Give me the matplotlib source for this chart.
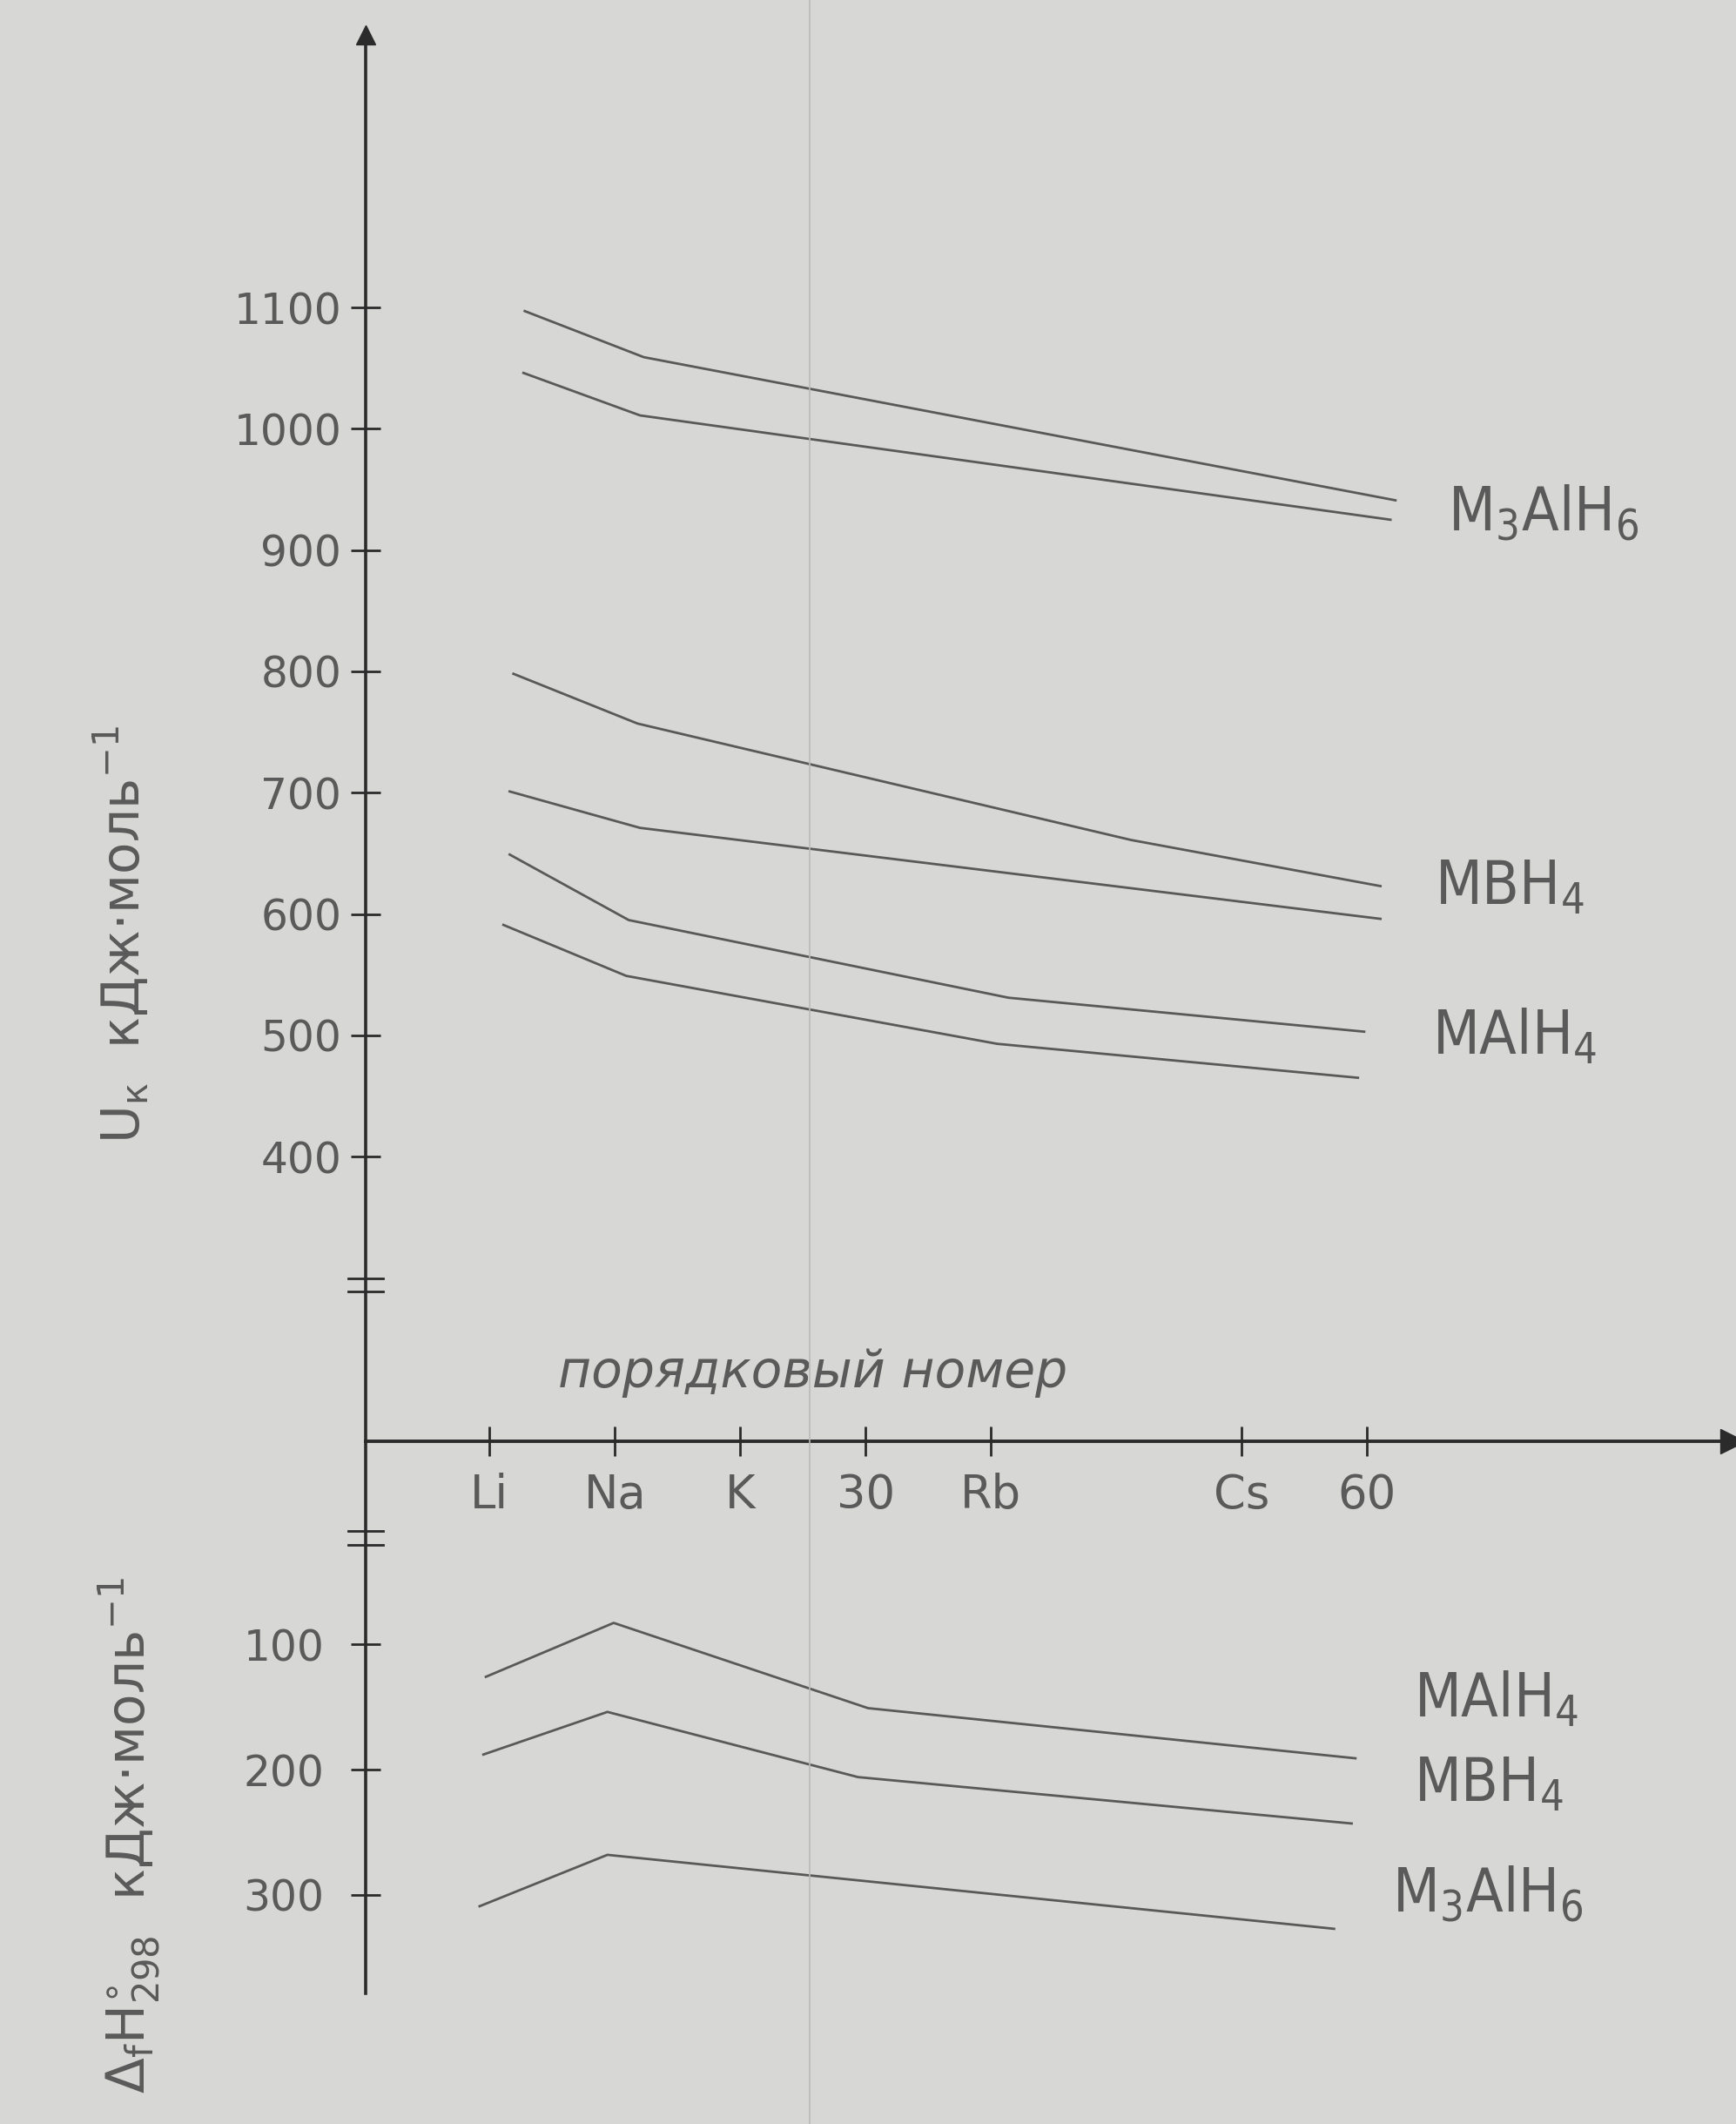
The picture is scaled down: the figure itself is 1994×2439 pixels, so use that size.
import matplotlib
matplotlib.use('Agg')
import matplotlib.pyplot as plt
from matplotlib.lines import Line2D

plt.rcParams['font.family'] = ['DejaVu Sans']
plt.rcParams['mathtext.fontset'] = 'dejavusans'
plt.rcParams['mathtext.default'] = 'regular'

# x axis: positions of the hand-drawn ticks (Cs sits two steps after Rb)
tick_pos = [0, 1, 2, 3, 4, 6, 7]
tick_labels = ['Li', 'Na', 'K', '30', 'Rb', 'Cs', '60']

# upper part: U_k, kJ/mol
upper_ticks = [400, 500, 600, 700, 800, 900, 1000, 1100]
upper_tick_labels = ['400', '500', '600', '700', '800', '900', '1000', '1100']

m3alh6_a_x = [0.28, 1.23, 7.23]
m3alh6_a_y = [1097, 1059, 941]
m3alh6_b_x = [0.27, 1.20, 7.19]
m3alh6_b_y = [1046, 1011, 925]
mbh4_a_x = [0.19, 1.18, 5.12, 7.11]
mbh4_a_y = [798, 757, 661, 623]
mbh4_b_x = [0.16, 1.20, 7.11]
mbh4_b_y = [701, 671, 596]
malh4_a_x = [0.16, 1.11, 4.14, 6.98]
malh4_a_y = [649, 595, 531, 503]
malh4_b_x = [0.11, 1.09, 4.05, 6.93]
malh4_b_y = [591, 549, 493, 465]

# lower part: -dfH298, kJ/mol (axis points down)
lower_ticks = [100, 200, 300]
lower_tick_labels = ['100', '200', '300']

dh_malh4_x = [-0.03, 0.99, 3.02, 6.91]
dh_malh4_y = [126, 83, 151, 191]
dh_mbh4_x = [-0.05, 0.94, 2.94, 6.88]
dh_mbh4_y = [188, 154, 206, 243]
dh_m3alh6_x = [-0.08, 0.94, 6.74]
dh_m3alh6_y = [309, 268, 327]

paper = '#d7d7d5'
ink = '#2b2b2b'
pencil = '#595959'
txt = '#5a5a5a'

fig = plt.figure(figsize=(19.94, 24.39), dpi=100)
fig.patch.set_facecolor(paper)

# faint fold line of the scan
fig.add_artist(Line2D([930 / 1994] * 2, [0, 1], transform=fig.transFigure,
                      color='#b9b9b7', lw=1.2))

ax_top = fig.add_axes([0.2106, 0.3214, 0.7874, 0.6622])
ax_bot = fig.add_axes([0.2106, 0.0615, 0.7874, 0.2599])

for ax in (ax_top, ax_bot):
    ax.set_facecolor('none')
    ax.set_xlim(-0.99, 9.92)
    for s in ['top', 'right']:
        ax.spines[s].set_visible(False)
    ax.spines['left'].set_color(ink)
    ax.spines['left'].set_linewidth(2.6)

ax_top.set_ylim(165.3, 1324.7)
ax_bot.set_ylim(378.5, -61.8)

ax_top.spines['bottom'].set_color(ink)
ax_top.spines['bottom'].set_linewidth(2.8)
ax_bot.spines['bottom'].set_visible(False)

# arrows
ax_top.plot(1, 0, marker='>', ms=20, color=ink, transform=ax_top.transAxes, clip_on=False)
ax_top.plot(0, 1, marker='^', ms=16, color=ink, transform=ax_top.transAxes, clip_on=False)

# ticks
ax_top.set_yticks(upper_ticks, upper_tick_labels)
ax_top.tick_params(axis='y', direction='inout', length=24, width=2, pad=8,
                   labelsize=35, labelcolor=txt, color=ink)
ax_top.set_xticks(tick_pos, tick_labels)
ax_top.tick_params(axis='x', direction='inout', length=24, width=2, pad=14,
                   labelsize=38, labelcolor=txt, color=ink)

ax_bot.set_yticks(lower_ticks, lower_tick_labels)
ax_bot.tick_params(axis='y', direction='inout', length=24, width=2, pad=22,
                   labelsize=35, labelcolor=txt, color=ink)
ax_bot.set_xticks([])

# axis breaks
for ax, v in ((ax_top, 294), (ax_bot, 15)):
    tr = ax.get_yaxis_transform()
    sign = 1 if ax is ax_top else -1
    for dv in (-5.5, 5.5):
        ax.plot([-0.013, 0.013], [v + dv * sign, v + dv * sign], color=ink, lw=2,
                transform=tr, clip_on=False)

# curves
lw = 2.0
for xs, ys in ((m3alh6_a_x, m3alh6_a_y), (m3alh6_b_x, m3alh6_b_y),
               (mbh4_a_x, mbh4_a_y), (mbh4_b_x, mbh4_b_y),
               (malh4_a_x, malh4_a_y), (malh4_b_x, malh4_b_y)):
    ax_top.plot(xs, ys, color=pencil, lw=lw)

for xs, ys in ((dh_malh4_x, dh_malh4_y), (dh_mbh4_x, dh_mbh4_y),
               (dh_m3alh6_x, dh_m3alh6_y)):
    ax_bot.plot(xs, ys, color=pencil, lw=lw)

# formula labels
lab = dict(fontsize=50, color=txt, ha='left', va='center', fontstretch='condensed',
           clip_on=False)
ax_top.text(7.65, 931, r'M$_3$AlH$_6$', **lab)
ax_top.text(7.54, 622, r'MBH$_4$', **lab)
ax_top.text(7.52, 499, r'MAlH$_4$', **lab)
ax_bot.text(7.38, 144, r'MAlH$_4$', **lab)
ax_bot.text(7.38, 212, r'MBH$_4$', **lab)
ax_bot.text(7.20, 299, r'M$_3$AlH$_6$', **lab)

ax_top.text(2.58, 222, 'порядковый номер', fontsize=42, style='italic', color=txt,
            ha='center', va='center')

fig.text(140 / 1994, 1 - 1073 / 2439, r'$U_к$  кДж·моль$^{-1}$', rotation=90,
         ha='center', va='center', fontsize=43, color=txt)
fig.text(148 / 1994, 1 - 2108 / 2439, r'$\Delta_f H^{\circ}_{298}$  кДж·моль$^{-1}$',
         rotation=90, ha='center', va='center', fontsize=43, color=txt)

fig.savefig('out.png', dpi=100, facecolor=fig.get_facecolor())
